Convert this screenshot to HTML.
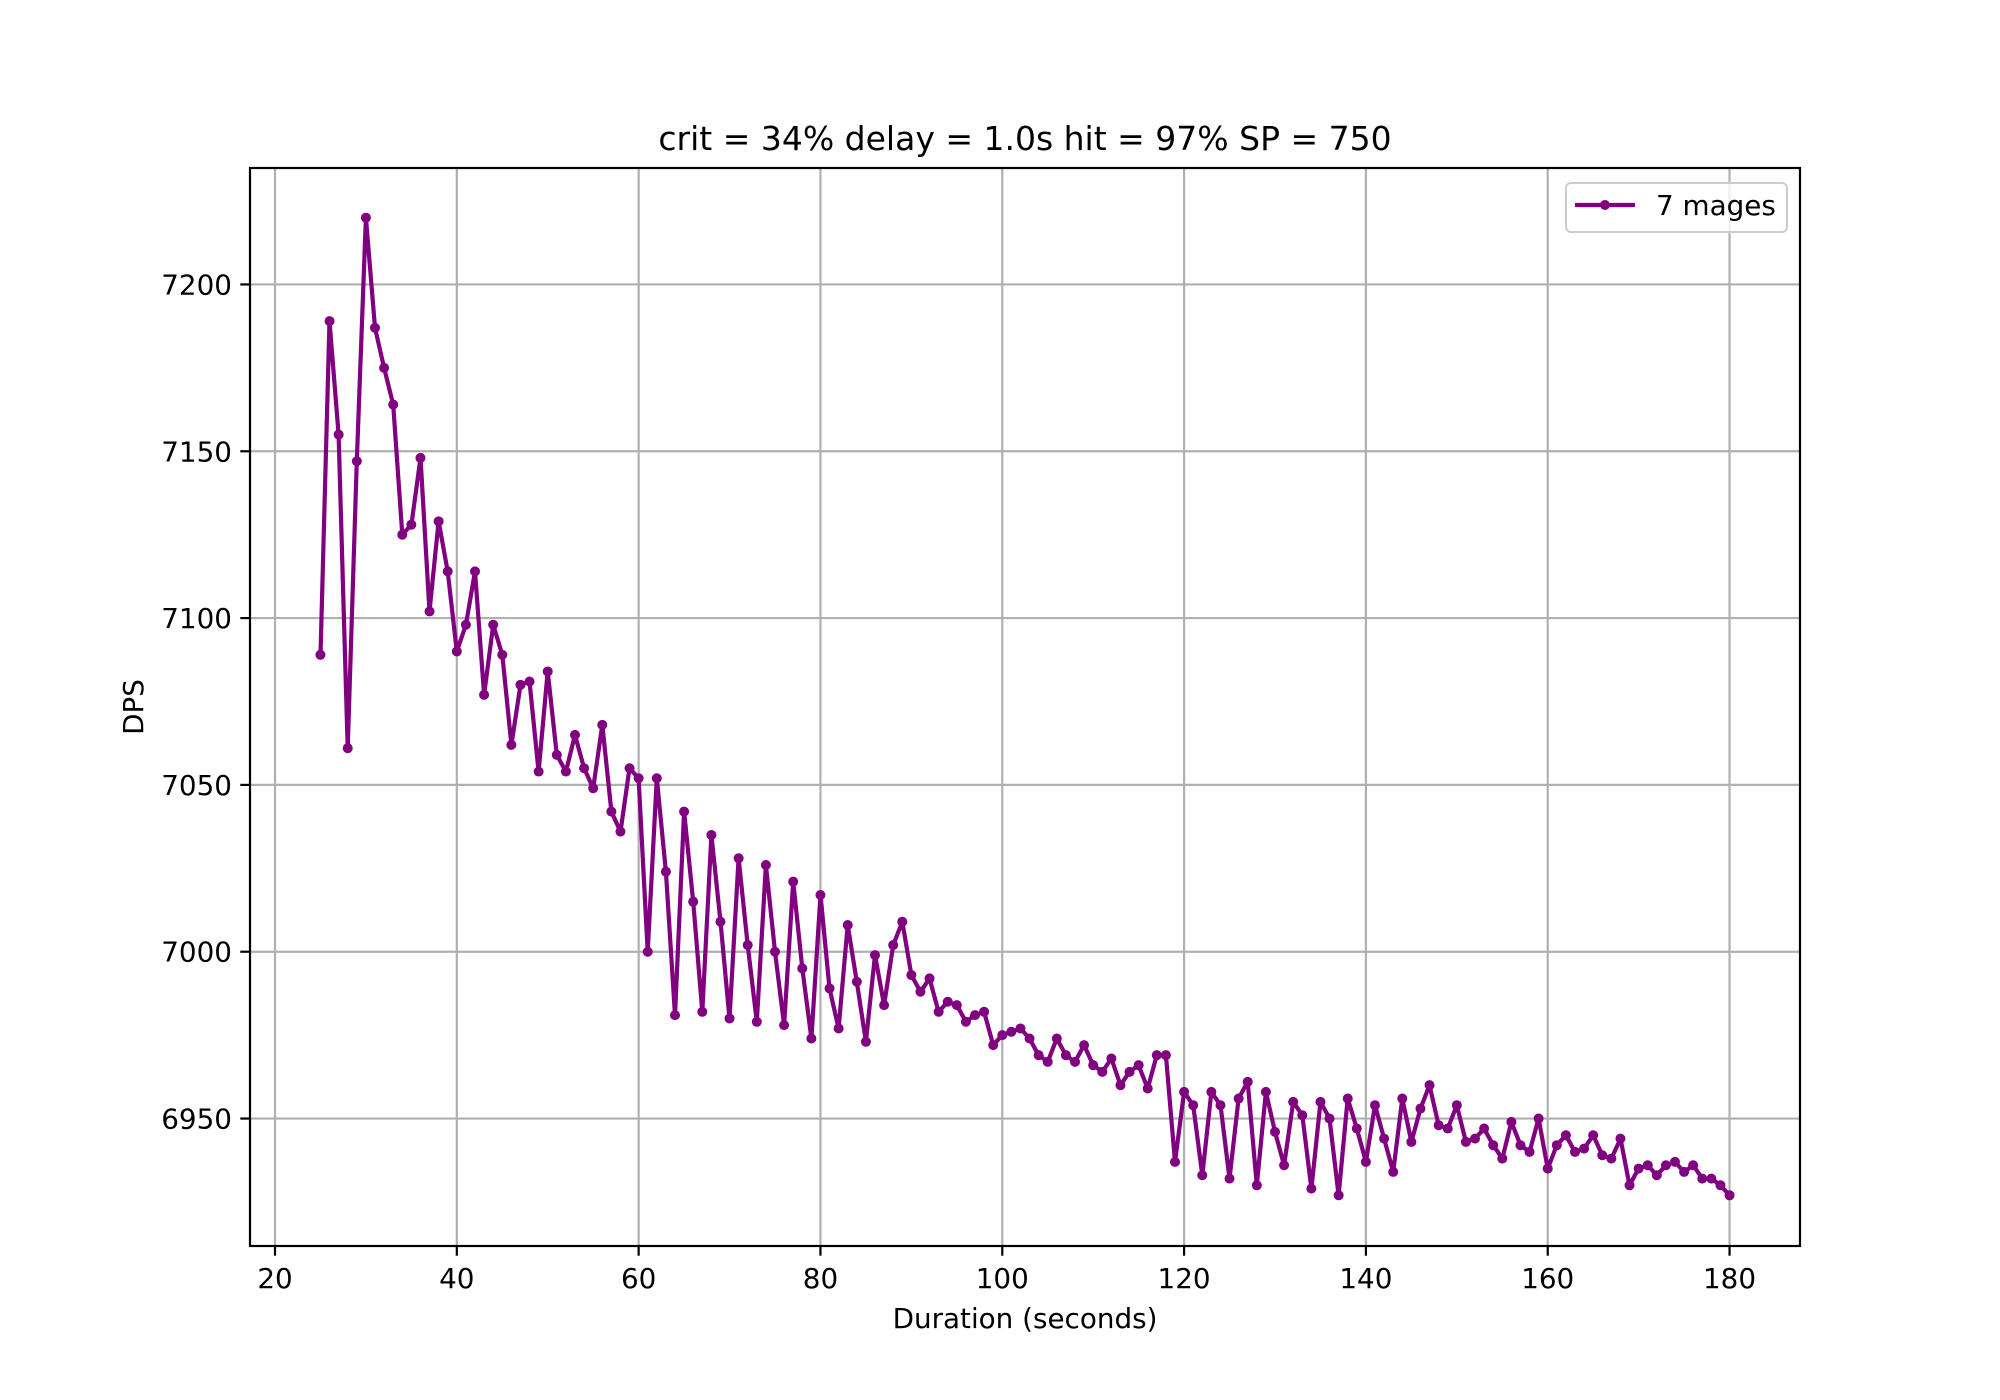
<!DOCTYPE html>
<html><head><meta charset="utf-8"><style>
html,body{margin:0;padding:0;background:#fff;}
svg{display:block;font-family:"DejaVu Sans","Liberation Sans",sans-serif;}
</style></head><body>
<svg id="chart" width="2000" height="1400" viewBox="0 0 2000 1400" xmlns="http://www.w3.org/2000/svg">
<rect width="2000" height="1400" fill="#fff"/>
<g id="grid"></g>
<g id="series"></g>
<rect x="250" y="168" width="1550" height="1078" fill="none" stroke="#000" stroke-width="2.2"/>
<g id="ticks"></g>
<text x="1025" y="150" font-size="33" text-anchor="middle">crit = 34% delay = 1.0s hit = 97% SP = 750</text>
<text x="1025" y="1328" font-size="27.8" text-anchor="middle">Duration (seconds)</text>
<text transform="translate(143,707) rotate(-90)" font-size="27.8" text-anchor="middle">DPS</text>
<g>
<rect x="1566" y="183" width="221" height="49" rx="5" fill="#fff" fill-opacity="0.8" stroke="#ccc" stroke-width="2"/>
<line x1="1575" y1="205" x2="1635" y2="205" stroke="#800080" stroke-width="4.2"/>
<circle cx="1605" cy="205" r="5" fill="#800080"/>
<text x="1656" y="215" font-size="27.8">7 mages</text>
</g>
</svg>
<script>
const xStart = 25;
const dpsValues = [7089,7189,7155,7061,7147,7220,7187,7175,7164,7125,7128,7148,7102,7129,7114,7090,7098,7114,7077,7098,7089,7062,7080,7081,7054,7084,7059,7054,7065,7055,7049,7068,7042,7036,7055,7052,7000,7052,7024,6981,7042,7015,6982,7035,7009,6980,7028,7002,6979,7026,7000,6978,7021,6995,6974,7017,6989,6977,7008,6991,6973,6999,6984,7002,7009,6993,6988,6992,6982,6985,6984,6979,6981,6982,6972,6975,6976,6977,6974,6969,6967,6974,6969,6967,6972,6966,6964,6968,6960,6964,6966,6959,6969,6969,6937,6958,6954,6933,6958,6954,6932,6956,6961,6930,6958,6946,6936,6955,6951,6929,6955,6950,6927,6956,6947,6937,6954,6944,6934,6956,6943,6953,6960,6948,6947,6954,6943,6944,6947,6942,6938,6949,6942,6940,6950,6935,6942,6945,6940,6941,6945,6939,6938,6944,6930,6935,6936,6933,6936,6937,6934,6936,6932,6932,6930,6927];
const xTicks = [20,40,60,80,100,120,140,160,180];
const yTicks = [6950,7000,7050,7100,7150,7200];
const NS="http://www.w3.org/2000/svg";
const X0=250,X1=1800,Y0=1246,Y1=168,xMin=17.25,xMax=187.75,yMin=6911.8,yMax=7234.9;
function sx(v){return X0+(v-xMin)/(xMax-xMin)*(X1-X0);}
function sy(v){return Y0-(v-yMin)/(yMax-yMin)*(Y0-Y1);}
function mk(t,a,p){const e=document.createElementNS(NS,t);for(const k in a)e.setAttribute(k,a[k]);p.appendChild(e);return e;}
const grid=document.getElementById('grid'),ticks=document.getElementById('ticks'),series=document.getElementById('series');
xTicks.forEach(v=>{const x=sx(v);
 const g=mk('line',{x1:x,x2:x,y1:Y1,y2:Y0,stroke:'#b0b0b0','stroke-width':2.2},grid);
 
 
 mk('line',{x1:x,x2:x,y1:Y0,y2:Y0+9.7,stroke:'#000','stroke-width':2.2},ticks);
 const t=mk('text',{x:x,y:1288,'font-size':27.8,'text-anchor':'middle'},ticks);t.textContent=v;
 
 
});
yTicks.forEach(v=>{const y=sy(v);
 const g=mk('line',{x1:X0,x2:X1,y1:y,y2:y,stroke:'#b0b0b0','stroke-width':2.2},grid);
 
 
 mk('line',{x1:X0-9.7,x2:X0,y1:y,y2:y,stroke:'#000','stroke-width':2.2},ticks);
 const t=mk('text',{x:232,y:y+10,'font-size':27.8,'text-anchor':'end'},ticks);t.textContent=v;
 
 
});
const pts=dpsValues.map((v,i)=>sx(xStart+i).toFixed(1)+','+sy(v).toFixed(1)).join(' ');
const line=mk('polyline',{points:pts,fill:'none',stroke:'#800080','stroke-width':4.2,'stroke-linejoin':'round'},series);


dpsValues.forEach((v,i)=>{const c=mk('circle',{cx:sx(xStart+i),cy:sy(v),r:5,fill:'#800080'},series);
 
 
});
</script>
</body></html>
